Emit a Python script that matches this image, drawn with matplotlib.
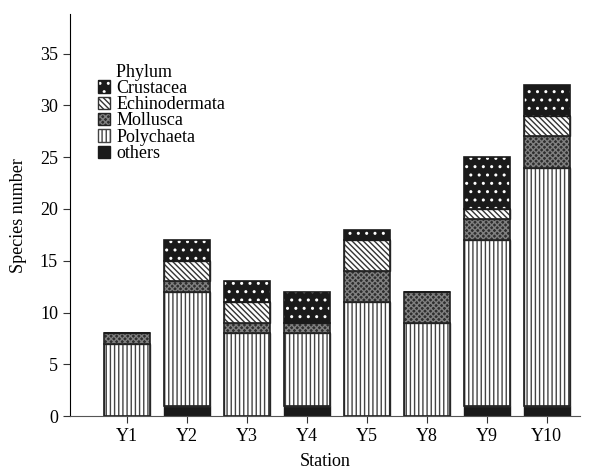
import numpy as np
import matplotlib.pyplot as plt
from matplotlib.patches import Patch
from matplotlib.legend_handler import HandlerTuple

plt.rcParams['font.family'] = ['Liberation Serif', 'DejaVu Serif']
plt.rcParams['hatch.linewidth'] = 1.0

stations = ["Y1", "Y2", "Y3", "Y4", "Y5", "Y8", "Y9", "Y10"]
others = [0, 1, 0, 1, 0, 0, 1, 1]
polychaeta = [7, 11, 8, 7, 11, 9, 16, 23]
mollusca = [1, 1, 1, 1, 3, 3, 2, 3]
echinodermata = [0, 2, 2, 0, 3, 0, 1, 2]
crustacea = [0, 2, 2, 3, 1, 0, 5, 3]

x = np.arange(len(stations))
w = 0.77

fig = plt.figure(figsize=(6.02, 4.74), dpi=100)
ax = fig.add_axes([0.116, 0.122, 0.847, 0.848])

bottom = np.zeros(len(stations))

# others - solid black
ax.bar(x, others, w, bottom=bottom, color="#1a1a1a", edgecolor="#1a1a1a", linewidth=1)
bottom += others

# Polychaeta - vertical lines
ax.bar(x, polychaeta, w, bottom=bottom, color="white", edgecolor="#444444", hatch="||||", linewidth=1)
ax.bar(x, polychaeta, w, bottom=bottom, fill=False, edgecolor="#222222", linewidth=1.2)
bottom += polychaeta

# Mollusca - dark grey with fine light grid
ax.bar(x, mollusca, w, bottom=bottom, color="#2e2e2e", edgecolor="#808080", hatch="xxxxxx", linewidth=0)
ax.bar(x, mollusca, w, bottom=bottom, fill=False, edgecolor="#222222", linewidth=1.2)
bottom += mollusca

# Echinodermata - diagonal lines
ax.bar(x, echinodermata, w, bottom=bottom, color="white", edgecolor="#333333", hatch="\\\\\\\\\\\\", linewidth=1)
ax.bar(x, echinodermata, w, bottom=bottom, fill=False, edgecolor="#222222", linewidth=1.2)
bottom += echinodermata

# Crustacea - black with white dots
ax.bar(x, crustacea, w, bottom=bottom, color="#1a1a1a", edgecolor="white", hatch="..", linewidth=0)
ax.bar(x, crustacea, w, bottom=bottom, fill=False, edgecolor="#1a1a1a", linewidth=1.2)

handles = [
    (Patch(facecolor="#1a1a1a", edgecolor="white", hatch="..", linewidth=0),
     Patch(fill=False, edgecolor="#1a1a1a")),
    Patch(facecolor="white", edgecolor="#333333", hatch="\\\\\\\\\\\\"),
    (Patch(facecolor="#2e2e2e", edgecolor="#808080", hatch="xxxxxx", linewidth=0),
     Patch(fill=False, edgecolor="#222222")),
    Patch(facecolor="white", edgecolor="#444444", hatch="||||"),
    Patch(facecolor="#1a1a1a", edgecolor="#1a1a1a"),
]
labels = ["Crustacea", "Echinodermata", "Mollusca", "Polychaeta", "others"]
leg = ax.legend(handles, labels, title="    Phylum", loc="upper left",
                bbox_to_anchor=(0.055, 0.877), frameon=False, fontsize=13,
                title_fontsize=13, alignment="left", labelspacing=-0.04,
                handlelength=0.68, handleheight=0.68, handletextpad=0.35,
                borderaxespad=0, borderpad=0,
                handler_map={tuple: HandlerTuple(ndivide=1, pad=0)})

ax.set_xlim(-0.95, 7.55)
ax.set_ylim(0, 38.8)
ax.set_xticks(x)
ax.set_xticklabels(stations)
ax.set_yticks(np.arange(0, 36, 5))
ax.tick_params(axis="both", direction="out", length=5, labelsize=13, color="#333333")
ax.spines["top"].set_visible(False)
ax.spines["right"].set_visible(False)
ax.spines["bottom"].set_color("#555555")
ax.set_xlabel("Station", fontsize=13, labelpad=6)
ax.set_ylabel("Species number", fontsize=13, labelpad=9)

plt.savefig("out.png", dpi=100)
